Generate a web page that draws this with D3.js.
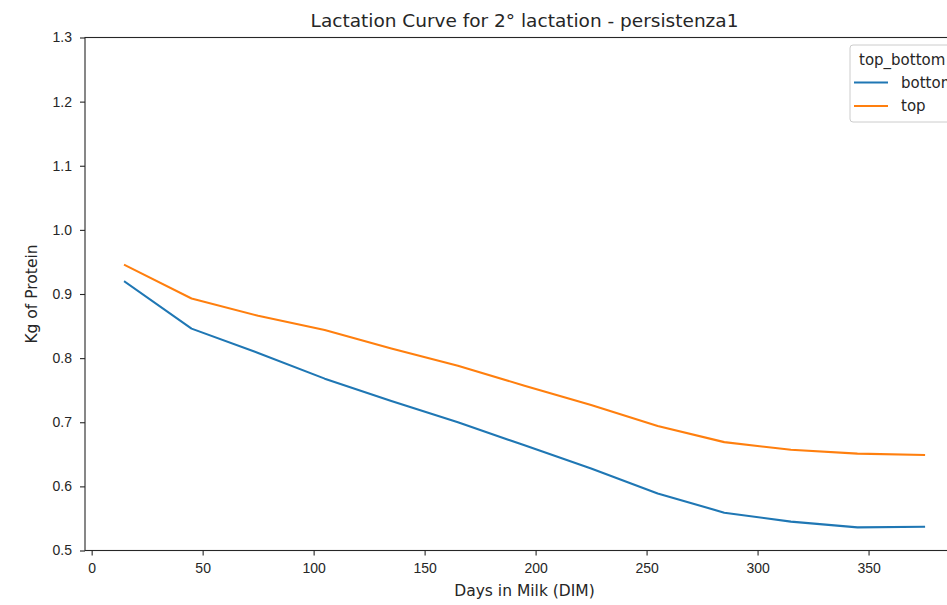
<!DOCTYPE html>
<html>
<head>
<meta charset="utf-8">
<script src="https://cdn.jsdelivr.net/npm/d3@7"></script>
<style>
  body { margin: 0; background: #fff; }
  svg { display: block; font-family: "DejaVu Sans", sans-serif; }
  .axis text { font-size: 14px; fill: #262626; }
  .axis path, .axis line { stroke: #262626; stroke-width: 1.1; }
</style>
</head>
<body>
<div id="chart"></div>
<script>
// days in milk
let dim = [15, 45, 75, 105, 135, 165, 195, 225, 255, 285, 315, 345, 375];
let bottom = [0.919, 0.846, 0.808, 0.768, 0.733, 0.700, 0.664, 0.628, 0.589, 0.559, 0.545, 0.536, 0.537];
let top_ = [0.945, 0.893, 0.866, 0.844, 0.815, 0.788, 0.757, 0.727, 0.694, 0.669, 0.657, 0.651, 0.649];
let seriesNames = ["bottom", "top"];
let xTicks = [0, 50, 100, 150, 200, 250, 300, 350];
let yTicks = [0.5, 0.6, 0.7, 0.8, 0.9, 1.0, 1.1, 1.2, 1.3];

let W = 947, H = 605;
let margin = {top: 37.5, left: 85, right: 964, bottom: 550.5};

let svg = d3.select("#chart")
    .append("svg")
    .attr("width", W)
    .attr("height", H);

let xScale = d3.scaleLinear().domain([-3, 393]).range([margin.left, margin.right]);
let yScale = d3.scaleLinear().domain([0.5, 1.3]).range([margin.bottom, margin.top]);

let colors = {bottom: "#1f77b4", top: "#ff7f0e"};
let series = [
    {name: "bottom", values: bottom},
    {name: "top", values: top_}
];

let line = d3.line()
    .x((d, i) => xScale(dim[i]))
    .y(d => yScale(d));

series.forEach(s => {
    svg.append("path")
        .datum(s.values)
        .attr("d", line)
        .attr("fill", "none")
        .attr("stroke", colors[s.name])
        .attr("stroke-width", 2.1)
        .attr("stroke-linejoin", "round")
        .attr("stroke-linecap", "square");
});

// spines
svg.append("rect")
    .attr("x", margin.left)
    .attr("y", margin.top)
    .attr("width", margin.right - margin.left)
    .attr("height", margin.bottom - margin.top)
    .attr("fill", "none")
    .attr("stroke", "#262626")
    .attr("stroke-width", 1.1);

let xAxis = d3.axisBottom(xScale).tickValues(xTicks).tickSize(5).tickPadding(8).tickFormat(d3.format("d"));
let yAxis = d3.axisLeft(yScale).tickValues(yTicks).tickSize(5).tickPadding(8).tickFormat(d3.format(".1f"));

svg.append("g")
    .attr("class", "axis")
    .attr("transform", "translate(0," + margin.bottom + ")")
    .call(xAxis)
    .call(g => g.select(".domain").remove());

svg.append("g")
    .attr("class", "axis")
    .attr("transform", "translate(" + margin.left + ",0)")
    .call(yAxis)
    .call(g => g.select(".domain").remove());

let cx = (margin.left + margin.right) / 2;

svg.append("text")
    .attr("x", cx)
    .attr("y", 26.5)
    .attr("text-anchor", "middle")
    .attr("font-size", "18.5px")
    .attr("fill", "#262626")
    .text("Lactation Curve for 2° lactation - persistenza1");

svg.append("text")
    .attr("x", cx)
    .attr("y", 596)
    .attr("text-anchor", "middle")
    .attr("font-size", "15.5px")
    .attr("fill", "#262626")
    .text("Days in Milk (DIM)");

svg.append("text")
    .attr("transform", "translate(37," + (margin.top + margin.bottom) / 2 + ") rotate(-90)")
    .attr("text-anchor", "middle")
    .attr("font-size", "15.5px")
    .attr("fill", "#262626")
    .text("Kg of Protein");

// legend
let legend = svg.append("g").attr("transform", "translate(850,45)");
legend.append("rect")
    .attr("width", 120)
    .attr("height", 77)
    .attr("rx", 3)
    .attr("fill", "white")
    .attr("fill-opacity", 0.8)
    .attr("stroke", "#cccccc");
legend.append("text")
    .attr("x", 9)
    .attr("y", 20)
    .attr("font-size", "15px")
    .attr("fill", "#262626")
    .text("top_bottom");
seriesNames.forEach((n, i) => {
    let y = 37.5 + i * 23.5;
    legend.append("line")
        .attr("x1", 4).attr("x2", 38)
        .attr("y1", y).attr("y2", y)
        .attr("stroke", colors[n])
        .attr("stroke-width", 2.1);
    legend.append("text")
        .attr("x", 51)
        .attr("y", y + 5)
        .attr("font-size", "15px")
        .attr("fill", "#262626")
        .text(n);
});
</script>
</body>
</html>
